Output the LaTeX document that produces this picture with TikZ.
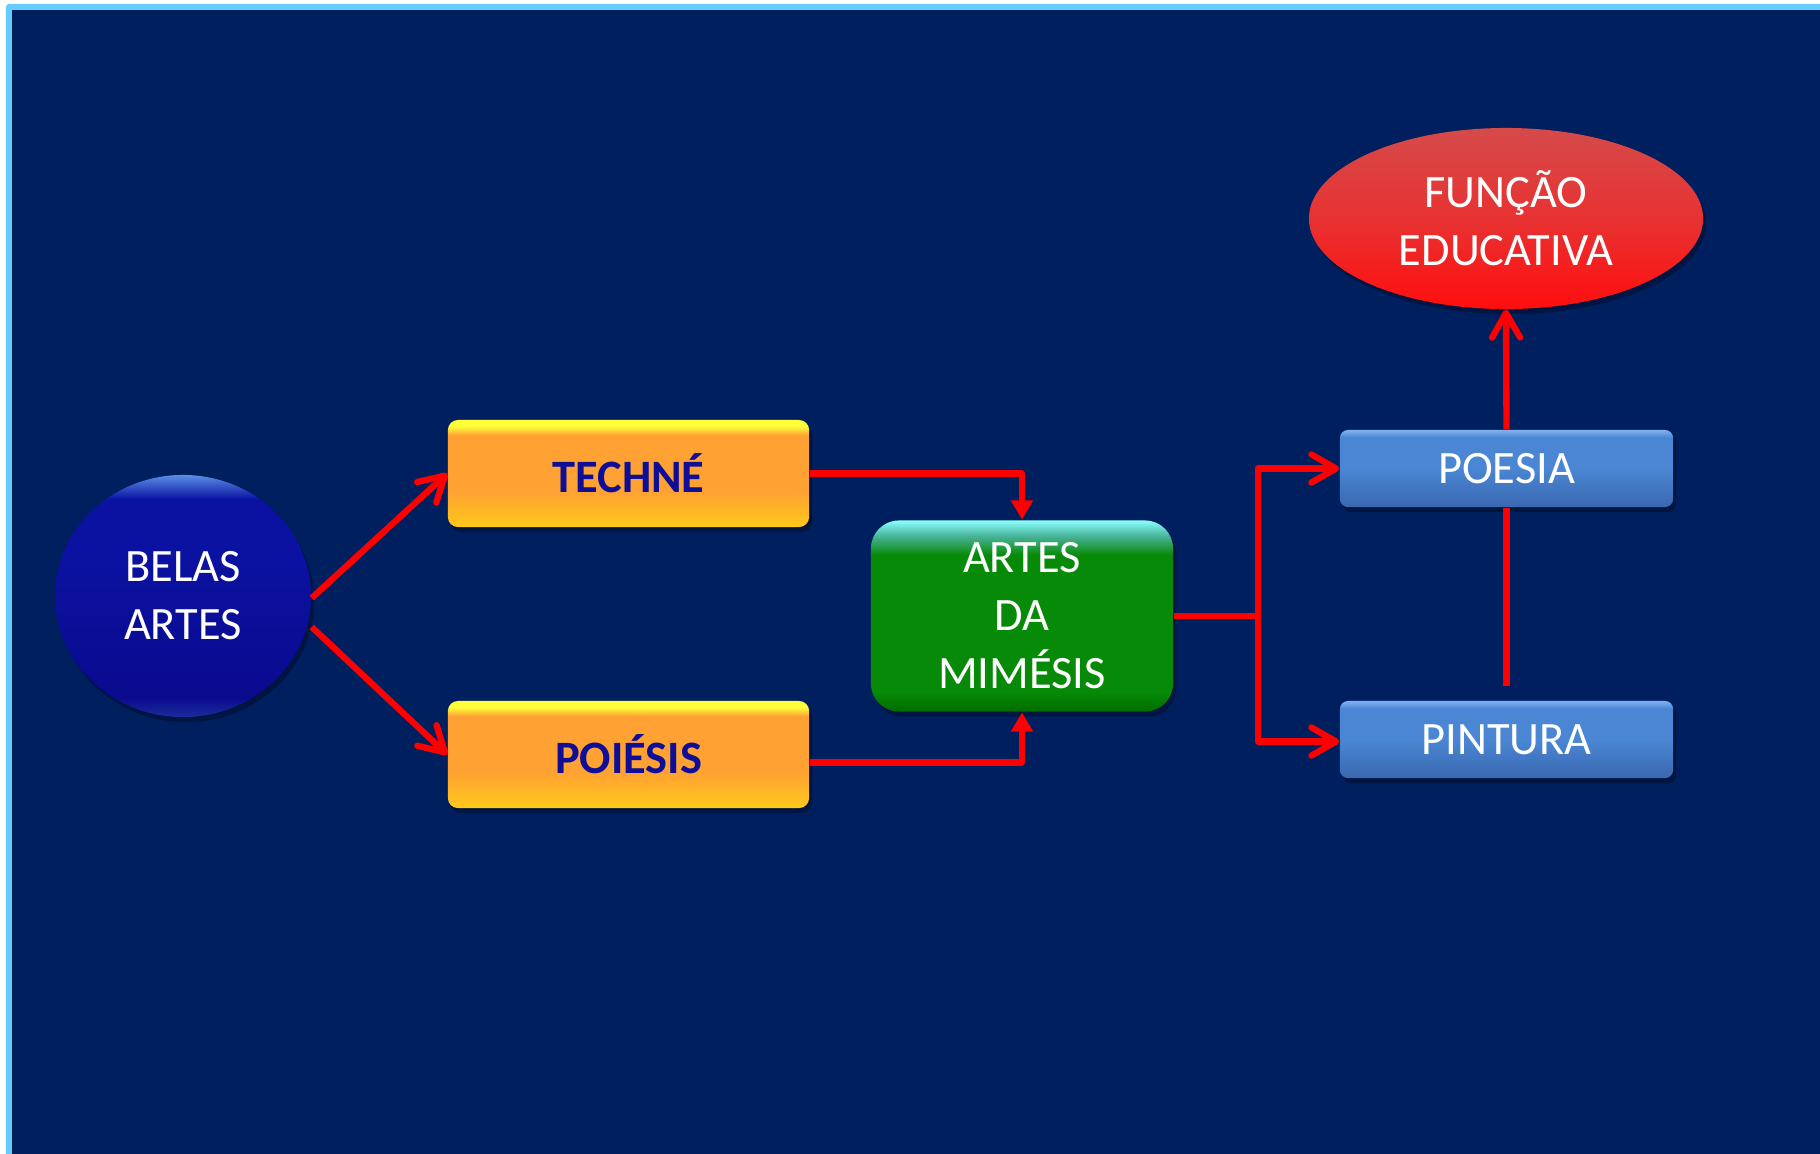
\documentclass[tikz,border=0pt]{standalone}
\usepackage{fontspec}
\setmainfont{Carlito}
\usetikzlibrary{arrows.meta,shapes.geometric,shadows,calc}
\definecolor{bgblue}{HTML}{001F5E}
\definecolor{borderblue}{HTML}{66CCFF}
\definecolor{arrowred}{HTML}{FF0000}
\definecolor{navytext}{HTML}{0E0E96}
% yellow boxes
\definecolor{ytop}{HTML}{FFFF3A}
\definecolor{yorg}{HTML}{FFA133}
\definecolor{ybot}{HTML}{FFC81A}
% green box
\definecolor{gtop}{HTML}{8CFFFF}
\definecolor{gteal}{HTML}{48B49A}
\definecolor{gmid}{HTML}{078A07}
\definecolor{gbot}{HTML}{006C00}
% blue boxes
\definecolor{btop}{HTML}{80B2F2}
\definecolor{bmid}{HTML}{4A86D3}
\definecolor{bbot}{HTML}{3A68B0}
% red ellipse
\definecolor{rtop}{HTML}{D64A4A}
\definecolor{rmid}{HTML}{E83232}
\definecolor{rbot}{HTML}{FF0E0E}
% belas ellipse
\definecolor{ctop}{HTML}{5A8EE6}
\definecolor{cmid}{HTML}{0B12A2}
\definecolor{cbot}{HTML}{0A0A8E}
\definecolor{crim}{HTML}{1C2C9C}
\pgfdeclareverticalshading{yshade}{100bp}{color(0bp)=(ybot); color(25bp)=(ybot); color(42bp)=(yorg); color(68bp)=(yorg); color(72bp)=(ytop); color(75bp)=(ytop); color(100bp)=(ytop)}
\pgfdeclareverticalshading{gshade}{100bp}{color(0bp)=(gbot); color(25bp)=(gbot); color(30bp)=(gmid); color(66bp)=(gmid); color(71bp)=(gteal); color(75bp)=(gtop); color(100bp)=(gtop)}
\pgfdeclareverticalshading{bshade}{100bp}{color(0bp)=(bbot); color(25bp)=(bbot); color(50bp)=(bmid); color(70bp)=(bmid); color(75bp)=(btop); color(100bp)=(btop)}
\pgfdeclareverticalshading{rshade}{100bp}{color(0bp)=(rbot); color(25bp)=(rbot); color(50bp)=(rmid); color(75bp)=(rtop); color(100bp)=(rtop)}
\pgfdeclareverticalshading{cshade}{100bp}{color(0bp)=(crim); color(25bp)=(crim); color(29bp)=(cbot); color(60bp)=(cmid); color(70bp)=(cmid); color(75bp)=(ctop); color(100bp)=(ctop)}
\begin{document}
\begin{tikzpicture}[x=0.01cm,y=-0.01cm,
  redline/.style={draw=arrowred, line width=1.8pt, line join=round},
  barb/.style={-{Straight Barb[length=7pt,width=8pt,round]}},
  tri/.style={-{Triangle[length=5.5pt,width=6pt]}},
  shad/.style={drop shadow={shadow xshift=0.03cm, shadow yshift=-0.05cm, opacity=0.3, fill=black}},
  lbl/.style={text=white, font=\fontsize{13.2}{16.5}\selectfont, align=center, inner sep=0pt},
  ell/.style={ellipse, shad, lbl},
  ybox/.style={rectangle, rounded corners=0.1cm, shad, shading=yshade, minimum width=3.61cm, minimum height=1.07cm, inner sep=0pt, text=navytext, font=\fontsize{13.2}{16.5}\selectfont\bfseries},
  gbox/.style={rectangle, rounded corners=0.28cm, shad, shading=gshade, lbl, minimum width=3.02cm, minimum height=1.91cm},
  bbox/.style={rectangle, rounded corners=0.08cm, shad, shading=bshade, lbl, minimum width=3.33cm, minimum height=0.77cm}]
\useasboundingbox (0,0) rectangle (1820,1153);
\fill[white] (0,0) rectangle (1830,1165);
\fill[borderblue, rounded corners=0.03cm] (6,4) rectangle (1830,1165);
\fill[bgblue] (12,10) rectangle (1830,1165);

\node[ell, shading=cshade, minimum width=2.56cm, minimum height=2.42cm] (belas) at (183,596) {BELAS\\ARTES};
\node[ybox] (techne) at (628.5,473.5) {TECHNÉ};
\node[ybox] (poiesis) at (628.5,754.5) {POIÉSIS};
\node[gbox] (mimesis) at (1022,616) {ARTES\\DA\\MIMÉSIS};
\node[bbox] (poesia) at (1506.5,468.5) {POESIA};
\node[bbox] (pintura) at (1506.5,739.5) {PINTURA};
\node[ell, shading=rshade, minimum width=3.94cm, minimum height=1.81cm] (funcao) at (1506,218.5) {FUNÇÃO\\EDUCATIVA};

\coordinate (br) at ($(mimesis.east)+(84,0)$);

\draw[redline, barb] ([yshift=-0.02cm]belas.east) -- (techne.west);
\draw[redline, barb] ([yshift=-0.31cm]belas.east) -- (poiesis.west);
\draw[redline, tri] (techne.east) -| (mimesis.north);
\draw[redline, tri] ([yshift=-0.08cm]poiesis.east) -| (mimesis.south);
\draw[redline] (mimesis.east) -- (br);
\draw[redline, barb] (br) |- (poesia.west);
\draw[redline, barb] (br) |- ([yshift=-0.02cm]pintura.west);
\draw[redline] ([yshift=0.14cm]pintura.north) -- (poesia.south);
\draw[redline, barb] (poesia.north) -- (funcao.south);
\end{tikzpicture}
\end{document}
